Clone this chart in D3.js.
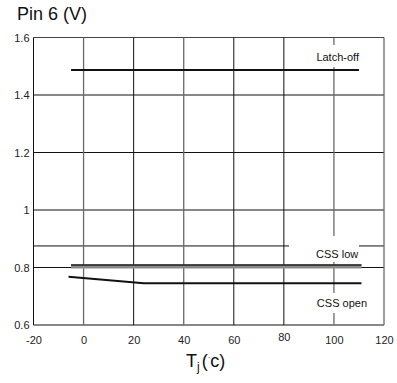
<!DOCTYPE html>
<html>
<head>
<meta charset="utf-8">
<script src="https://cdn.jsdelivr.net/npm/d3@7/dist/d3.min.js"></script>
<style>
  html, body { margin: 0; padding: 0; background: #fff; }
  svg { display: block; font-family: Arial, "Liberation Sans", sans-serif; }
</style>
</head>
<body>
<svg id="chart" width="397" height="383"></svg>
<script>
// Pin 6 threshold voltage versus junction temperature
const tempTicks = [-20, 0, 20, 40, 60, 80, 100, 120];
const voltTicks = [0.6, 0.8, 1, 1.2, 1.4, 1.6];
const extraGridVolts = [0.875];

const latchOffTemp = [-5, 110];
const latchOffVolt = [1.487, 1.487];

const cssLowTemp = [-5, 111];
const cssLowVolt = [0.807, 0.807];

const cssOpenTemp = [-6, 24, 111];
const cssOpenVolt = [0.768, 0.745, 0.745];

const svg = d3.select("#chart");
const x = d3.scaleLinear().domain([-20, 120]).range([33.5, 384]);
const y = d3.scaleLinear().domain([0.6, 1.6]).range([325, 37.5]);

const toPts = (ts, vs) => ts.map((t, i) => [t, vs[i]]);
const line = d3.line().x(d => x(d[0])).y(d => y(d[1]));

// horizontal grid lines
const grid = svg.append("g");
grid.selectAll("line.h")
  .data(voltTicks.concat(extraGridVolts))
  .join("line")
  .attr("x1", x(-20)).attr("x2", x(120))
  .attr("y1", d => y(d)).attr("y2", d => y(d))
  .attr("stroke", d => d === 1.6 ? "#444" : "#111")
  .attr("stroke-width", 1);

// vertical grid lines, some printed lighter
const lightCols = new Set([0, 40, 100, 120]);
grid.selectAll("line.v")
  .data(tempTicks)
  .join("line")
  .attr("y1", y(0.6)).attr("y2", y(1.6))
  .attr("x1", d => x(d)).attr("x2", d => x(d))
  .attr("stroke", d => d === -20 ? "#111" : (lightCols.has(d) ? "#6a6a6a" : "#111"))
  .attr("stroke-width", d => lightCols.has(d) ? 1.3 : 1);

// label boxes knock out the grid behind the curve names
const labels = [
  { text: "Latch-off", t: 101.5, v: 1.532, box: [298, 45, 56, 22] },
  { text: "CSS low", t: 101.3, v: 0.847, box: [289, 236, 70, 26] },
  { text: "CSS open", t: 103.2, v: 0.677, box: [295, 293, 64, 20] }
];
svg.append("g").selectAll("rect")
  .data(labels)
  .join("rect")
  .attr("x", d => d.box[0]).attr("y", d => d.box[1])
  .attr("width", d => d.box[2]).attr("height", d => d.box[3])
  .attr("fill", "#fff");

// curves
svg.append("path")
  .attr("d", line(toPts(latchOffTemp, latchOffVolt)))
  .attr("fill", "none").attr("stroke", "#111").attr("stroke-width", 2);

svg.append("path")
  .attr("d", line(toPts(cssLowTemp, cssLowVolt)))
  .attr("fill", "none").attr("stroke", "#8a8a8a").attr("stroke-width", 4)
  .attr("transform", "translate(0,1)");
svg.append("path")
  .attr("d", line(toPts(cssLowTemp, cssLowVolt)))
  .attr("fill", "none").attr("stroke", "#222").attr("stroke-width", 1.5)
  .attr("transform", "translate(0,-0.5)");

svg.append("path")
  .attr("d", line(toPts(cssOpenTemp, cssOpenVolt)))
  .attr("fill", "none").attr("stroke", "#111").attr("stroke-width", 2);

// curve names
svg.append("g").selectAll("text")
  .data(labels)
  .join("text")
  .attr("x", d => x(d.t)).attr("y", d => y(d.v))
  .attr("dy", "0.35em")
  .attr("text-anchor", "middle")
  .attr("font-size", 11)
  .attr("fill", "#111")
  .text(d => d.text);

// axes (labels only; frame comes from the grid)
const yAxis = svg.append("g")
  .attr("transform", `translate(${x(-20)},0)`)
  .call(d3.axisLeft(y).tickValues(voltTicks).tickSize(0).tickPadding(4)
    .tickFormat(d => String(d)));
yAxis.select(".domain").remove();
yAxis.selectAll("text").attr("font-size", 11).attr("fill", "#222")
  .attr("font-family", "Arial, 'Liberation Sans', sans-serif");

const xAxis = svg.append("g")
  .attr("transform", `translate(0,${y(0.6)})`)
  .call(d3.axisBottom(x).tickValues(tempTicks).tickSize(0).tickPadding(11)
    .tickFormat(d => String(d)));
xAxis.select(".domain").remove();
xAxis.selectAll("text").attr("font-size", 11).attr("fill", "#222")
  .attr("font-family", "Arial, 'Liberation Sans', sans-serif")
  .attr("dy", d => d === 80 ? "0.48em" : "0.71em");

// titles
svg.append("text")
  .attr("x", 17).attr("y", 20)
  .attr("font-size", 18).attr("fill", "#111")
  .text("Pin 6 (V)");

const xt = svg.append("text")
  .attr("x", 186).attr("y", 367)
  .attr("font-size", 18).attr("fill", "#111");
xt.append("tspan").text("T");
xt.append("tspan").attr("font-size", 12).attr("dy", 4).text("j");
xt.append("tspan").attr("dy", -4).attr("dx", 2).text("(");
xt.append("tspan").attr("font-size", 8).attr("dy", -7).text("·");
xt.append("tspan").attr("dy", 7).text("c)");
</script>
</body>
</html>
